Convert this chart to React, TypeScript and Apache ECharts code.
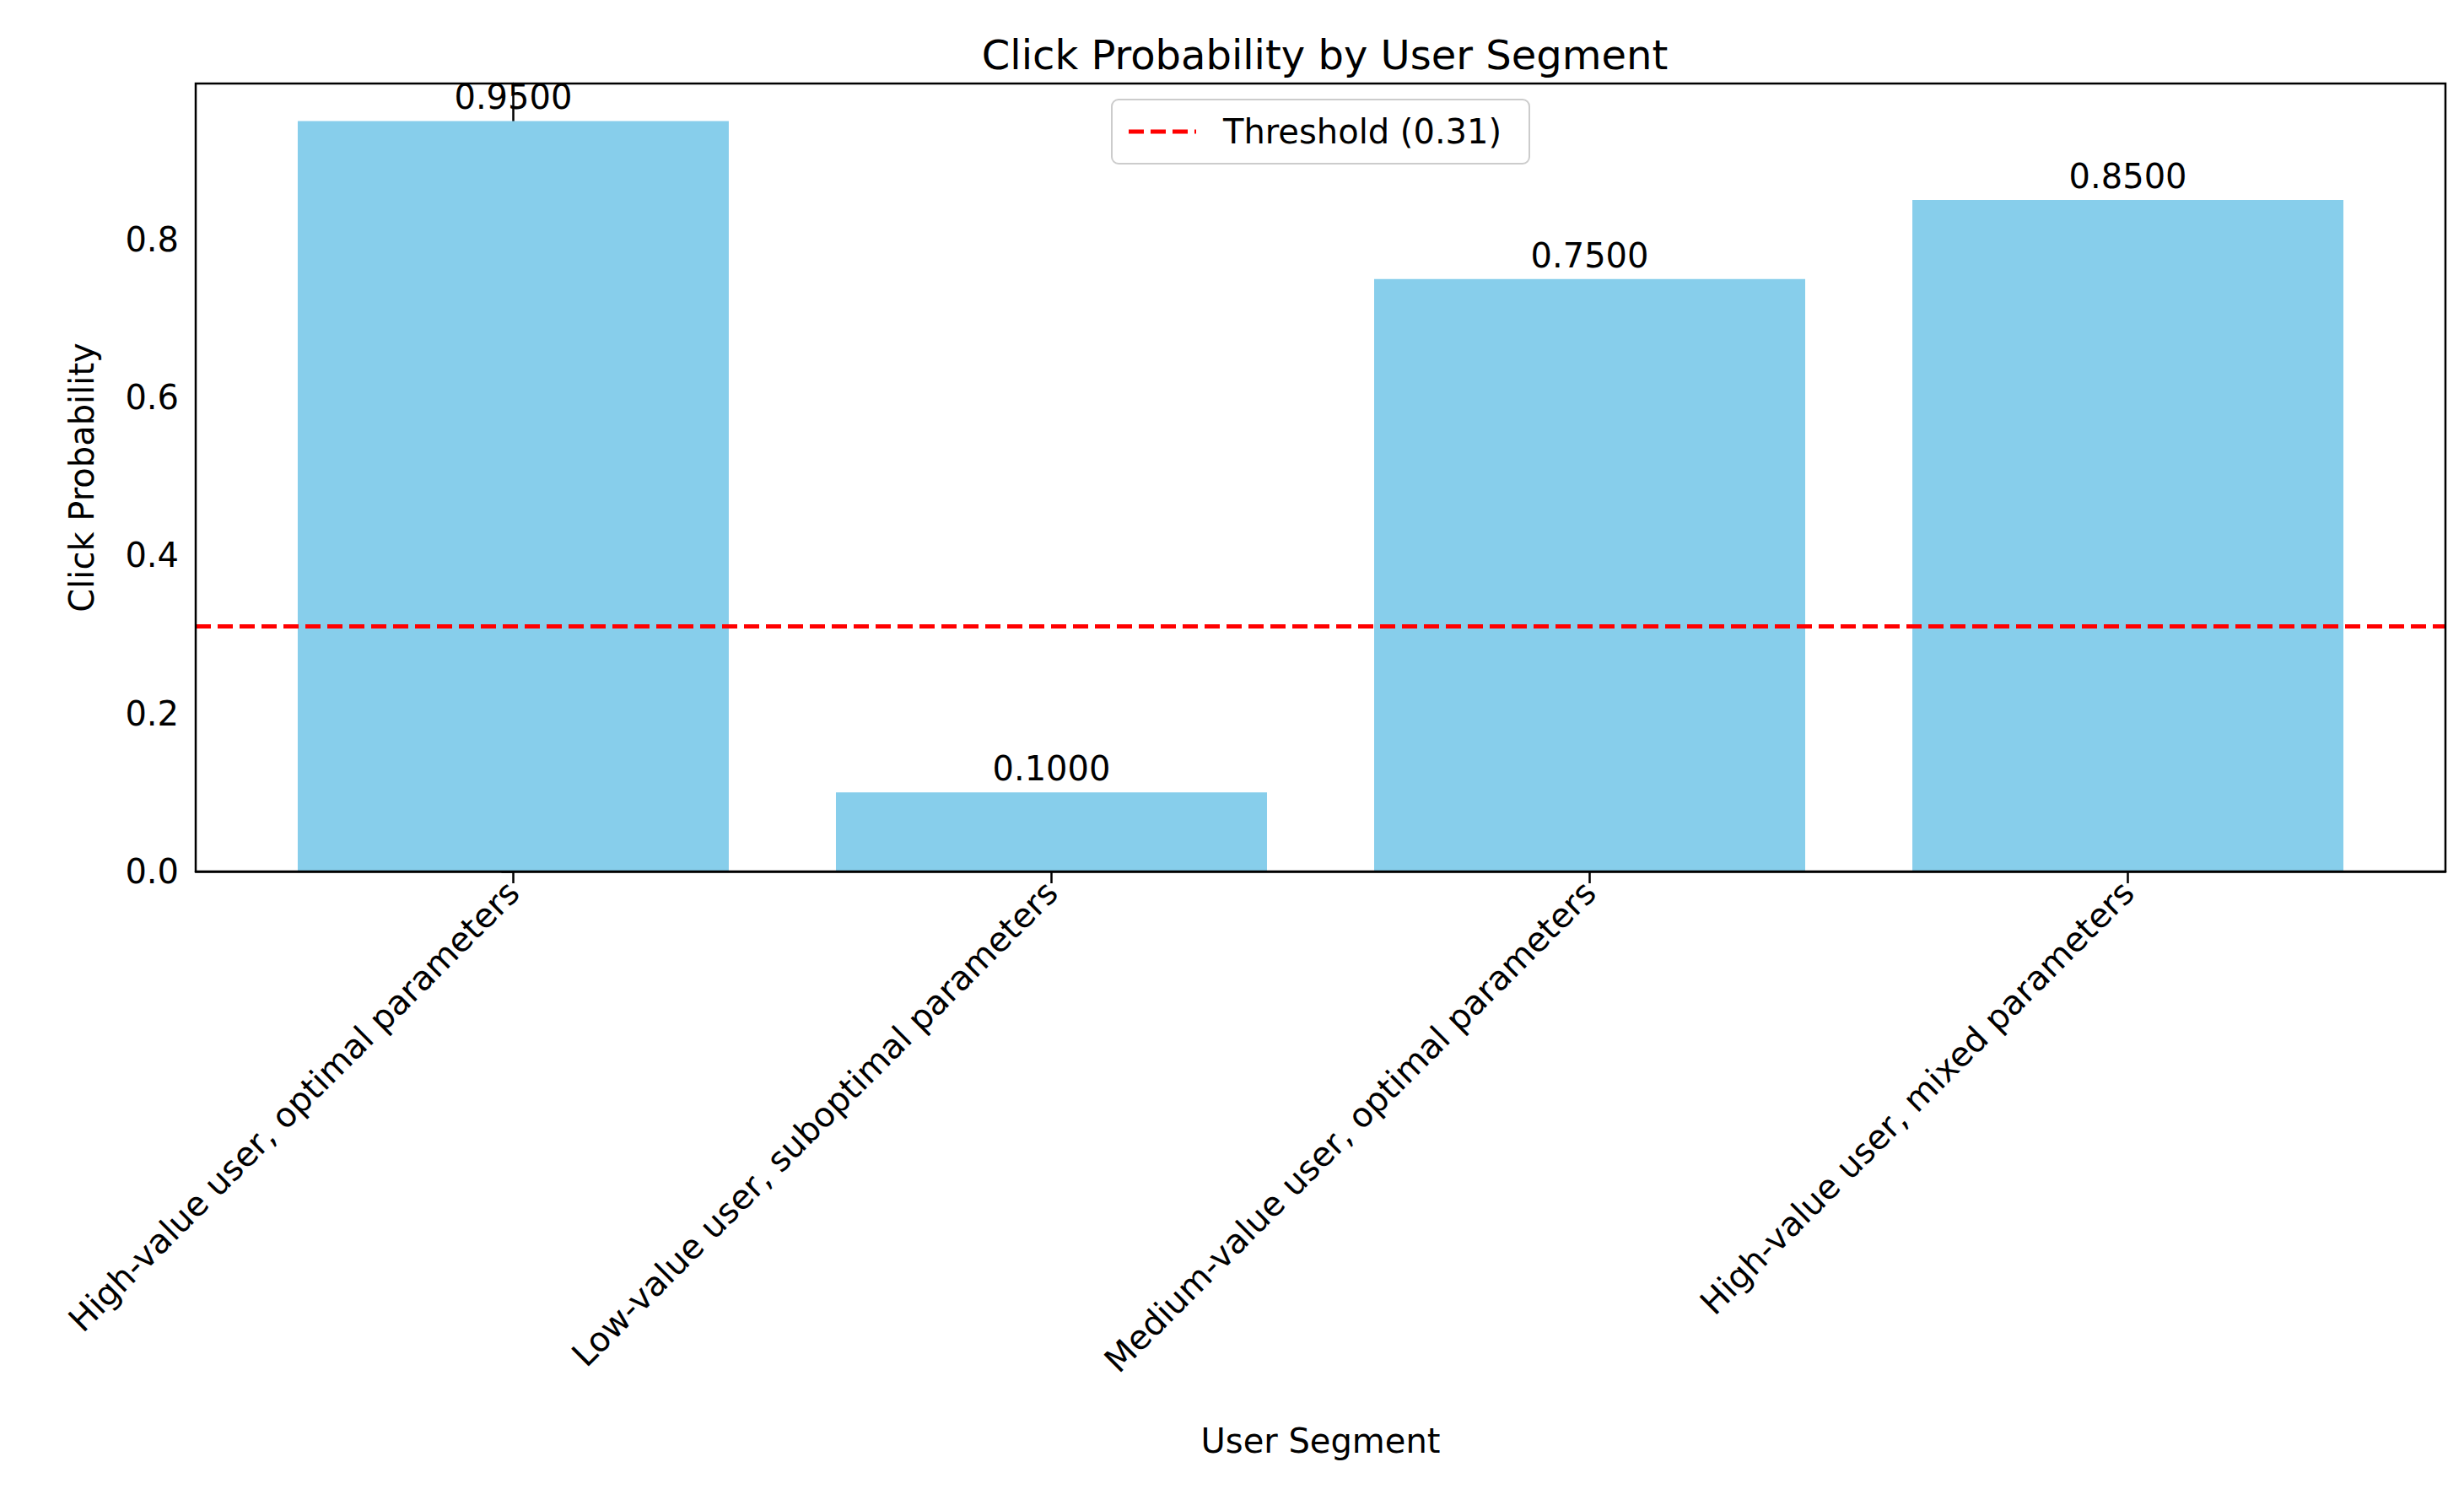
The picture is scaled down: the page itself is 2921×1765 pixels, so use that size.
import React, { useEffect, useRef } from "react";
import * as echarts from "echarts";

const categories = [
  "High-value user, optimal parameters",
  "Low-value user, suboptimal parameters",
  "Medium-value user, optimal parameters",
  "High-value user, mixed parameters",
];
const values = [0.95, 0.1, 0.75, 0.85];
const threshold = 0.31;
const yTicks = [0, 0.2, 0.4, 0.6, 0.8];

const L = 224, T = 91, W = 2667, H = 934;
const FONT = "DejaVu Sans";

export default function App() {
  const ref = useRef<HTMLDivElement>(null);
  useEffect(() => {
    const chart = echarts.init(ref.current!, null, { renderer: "svg" });
    chart.setOption({
      animation: false,
      textStyle: { fontFamily: FONT, color: "#000" },
      title: {
        text: "Click Probability by User Segment",
        left: L + W / 2, top: 28, textAlign: "center",
        textStyle: { fontFamily: FONT, fontSize: 48, fontWeight: "normal", color: "#000" },
      },
      grid: { left: L, top: T, width: W, height: H },
      xAxis: {
        type: "value", min: -0.59, max: 3.59,
        splitLine: { show: false },
        axisLine: { lineStyle: { color: "#000", width: 2.5 } },
        axisTick: { show: true, customValues: [0, 1, 2, 3], length: 14, lineStyle: { color: "#000", width: 2.5 } },
        axisLabel: {
          customValues: [0, 1, 2, 3], rotate: 45, fontSize: 40, color: "#000", fontFamily: FONT, margin: 18,
          formatter: (v: number) => categories[Math.round(v)] ?? "",
        },
        name: "User Segment", nameLocation: "middle", nameGap: 655,
        nameTextStyle: { fontSize: 40, color: "#000", fontFamily: FONT },
      },
      yAxis: {
        type: "value", min: 0, max: 0.9975,
        splitLine: { show: false },
        axisLine: { show: true, lineStyle: { color: "#000", width: 2.5 } },
        axisTick: { show: true, customValues: yTicks, length: 14, lineStyle: { color: "#000", width: 2.5 } },
        axisLabel: { customValues: yTicks, fontSize: 40, color: "#000", fontFamily: FONT, margin: 20, formatter: (v: number) => v.toFixed(1) },
        name: "Click Probability", nameLocation: "middle", nameGap: 115,
        nameTextStyle: { fontSize: 40, color: "#000", fontFamily: FONT },
      },
      series: [
        {
          type: "bar",
          data: values.map((v, i) => [i, v]),
          barWidth: 511,
          itemStyle: { color: "#87CEEB" },
          label: {
            show: true, position: "top", distance: 8, fontSize: 40, color: "#000", fontFamily: FONT,
            formatter: (p: any) => p.value[1].toFixed(4),
          },
          markLine: {
            symbol: "none", silent: true, label: { show: false },
            lineStyle: { color: "#ff0000", type: [18, 8], width: 5 },
            data: [{ yAxis: threshold }],
          },
        },
      ],
      graphic: [
        { type: "rect", shape: { x: L, y: T, width: W, height: H }, style: { fill: "none", stroke: "#000", lineWidth: 2.5 }, z: 10 },
        { type: "rect", shape: { x: 1310, y: 110, width: 495, height: 76, r: 8 }, style: { fill: "rgba(255,255,255,0.8)", stroke: "#ccc", lineWidth: 2 }, z: 11 },
        { type: "line", shape: { x1: 1330, y1: 148, x2: 1410, y2: 148 }, style: { stroke: "#ff0000", lineWidth: 5, lineDash: [18, 8] }, z: 12 },
        { type: "text", x: 1442, y: 148, style: { text: `Threshold (${threshold})`, fontSize: 40, fontFamily: FONT, fill: "#000", verticalAlign: "middle" }, z: 12 },
      ],
    });
    return () => chart.dispose();
  }, []);
  return <div ref={ref} style={{ width: 2905, height: 1749, background: "#fff" }} />;
}
